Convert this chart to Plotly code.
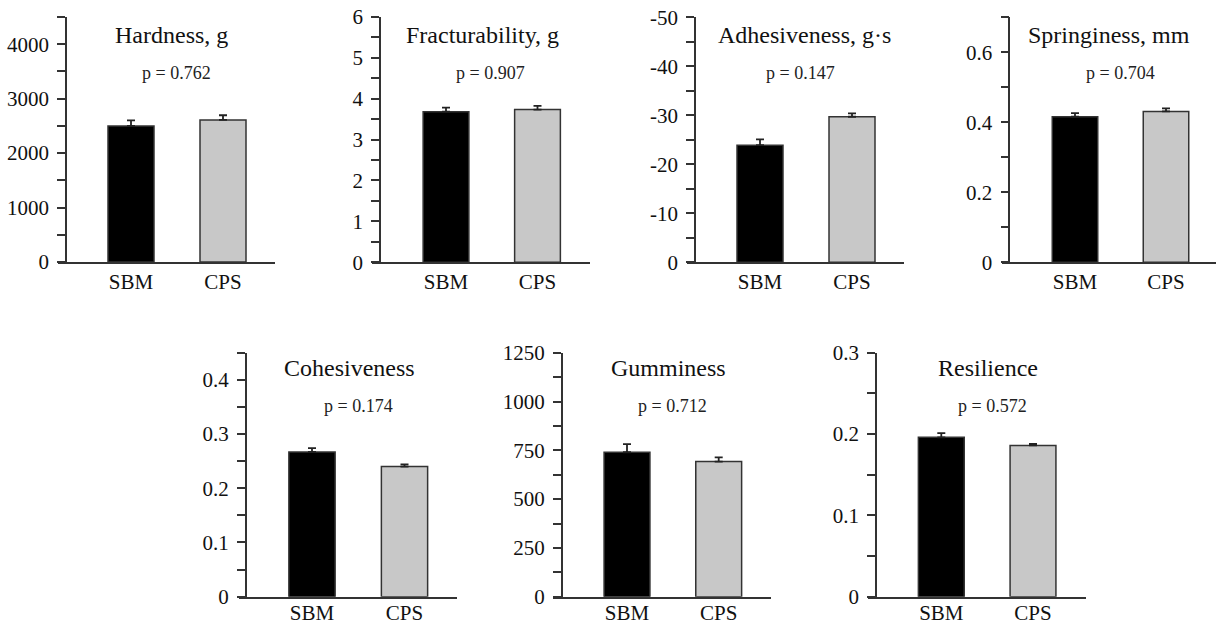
import numpy as np
import plotly.graph_objects as go

W, H = 1216, 626

# ---------------- data ----------------
categories = ["SBM", "CPS"]
titles = ["Hardness, g", "Fracturability, g", "Adhesiveness, g·s", "Springiness, mm",
          "Cohesiveness", "Gumminess", "Resilience"]
p_values = ["0.762", "0.907", "0.147", "0.704", "0.174", "0.712", "0.572"]
sbm_means = [2500, 3.68, -23.9, 0.416, 0.267, 740, 0.196]
cps_means = [2610, 3.73, -29.7, 0.431, 0.240, 692, 0.186]
sbm_errors = [100, 0.10, 1.2, 0.010, 0.007, 42, 0.005]
cps_errors = [85, 0.09, 0.7, 0.009, 0.004, 22, 0.002]
y_max = [4500, 6, -50, 0.7, 0.45, 1250, 0.3]
major_step = [1000, 1, 10, 0.2, 0.1, 250, 0.1]
minor_step = [500, 0.5, 5, 0.1, 0.05, 125, 0.05]

# ---------------- layout geometry (pixels) ----------------
geom = [
    dict(xa=(58, 275), yax=66, c=(131, 223), yt=17, yb=262, tt=(171, 34.5), pp=(176, 73), xs=0),
    dict(xa=(371.7, 590), yax=380, c=(446, 537.5), yt=16.7, yb=262.3, tt=(482, 34.5), pp=(490.5, 73), xs=0),
    dict(xa=(687, 904), yax=695, c=(760, 852), yt=17.3, yb=262.3, tt=(804.7, 34.5), pp=(800, 73), xs=0),
    dict(xa=(1001.7, 1216), yax=1009.3, c=(1075, 1166), yt=17.3, yb=262.3, tt=(1108.8, 34.5), pp=(1120.5, 73), xs=0),
    dict(xa=(239.3, 456.7), yax=245.7, c=(312, 404.5), yt=352.7, yb=596.7, tt=(349.7, 368), pp=(358.7, 406), xs=-4),
    dict(xa=(553.3, 770.7), yax=561.7, c=(627, 718.7), yt=352.7, yb=596.7, tt=(668.8, 368), pp=(672.8, 406), xs=-4),
    dict(xa=(868.3, 1086), yax=876, c=(941.3, 1033), yt=352.7, yb=596.7, tt=(987.5, 368), pp=(992.5, 406), xs=-4),
]

FONT = "Liberation Serif, Times New Roman, serif"
AXC = "#333333"
TXT = "#111111"
bar_colors = ["#000000", "#c8c8c8"]


def fmt(v):
    v = round(v, 6)
    if v == 0:
        return "0"
    return f"{v:g}"


fig = go.Figure()
layout = dict(
    template="none",
    width=W, height=H, margin=dict(l=0, r=0, t=0, b=0, pad=0, autoexpand=False),
    paper_bgcolor="white", plot_bgcolor="white", showlegend=False,
    font=dict(family=FONT, color=TXT),
    annotations=[],
)

for i in range(len(titles)):
    g = geom[i]
    n = "" if i == 0 else str(i + 1)
    xref, yref = "x" + n, "y" + n
    means = [sbm_means[i], cps_means[i]]
    errs = [sbm_errors[i], cps_errors[i]]
    neg = y_max[i] < 0
    zeros = [0, 0]
    fig.add_trace(go.Bar(
        x=categories, y=means, xaxis=xref, yaxis=yref, width=0.5,
        marker=dict(color=bar_colors, line=dict(color=AXC, width=1.5)),
        error_y=dict(type="data", symmetric=False,
                     array=zeros if neg else errs,
                     arrayminus=errs if neg else zeros,
                     color="#222222", thickness=1.8, width=4),
        hoverinfo="skip",
    ))
    unit = g["c"][1] - g["c"][0]
    xr = [(g["xa"][0] - g["c"][0]) / unit, (g["xa"][1] - g["c"][0]) / unit]
    sign = -1 if neg else 1
    top = abs(y_max[i])
    majors = [sign * v for v in np.arange(0, top + 1e-9, major_step[i])]
    minors = [sign * v for v in np.arange(0, top + 1e-9, minor_step[i])]
    minors = [m for m in minors if all(abs(m - M) > 1e-9 for M in majors)]
    layout["xaxis" + n] = dict(
        domain=[g["xa"][0] / W, g["xa"][1] / W], range=xr, anchor=yref,
        showline=True, linecolor=AXC, linewidth=1.5, ticks="", showgrid=False,
        zeroline=False, tickfont=dict(family=FONT, size=21, color=TXT),
        ticklabelstandoff=g["xs"],
        fixedrange=True, type="category", automargin=False,
    )
    layout["yaxis" + n] = dict(
        domain=[1 - g["yb"] / H, 1 - g["yt"] / H], range=[0, y_max[i]],
        anchor="free", position=g["yax"] / W, automargin=False,
        showline=True, linecolor=AXC, linewidth=1.5, showgrid=False, zeroline=False,
        ticks="outside", ticklen=8, tickwidth=1.5, tickcolor=AXC,
        tickmode="array", tickvals=majors, ticktext=[fmt(v) for v in majors],
        minor=dict(tickmode="array", tickvals=minors, ticks="outside", ticklen=8,
                   tickwidth=1.5, tickcolor=AXC, showgrid=False),
        tickfont=dict(family=FONT, size=21, color=TXT),
        ticklabelstandoff=4,
        fixedrange=True,
    )
    layout["annotations"].append(dict(
        text=titles[i], xref="paper", yref="paper",
        x=g["tt"][0] / W, y=1 - g["tt"][1] / H, xanchor="center", yanchor="middle",
        showarrow=False, font=dict(family=FONT, size=24, color=TXT),
    ))
    layout["annotations"].append(dict(
        text="p = " + p_values[i], xref="paper", yref="paper",
        x=g["pp"][0] / W, y=1 - g["pp"][1] / H, xanchor="center", yanchor="middle",
        showarrow=False, font=dict(family=FONT, size=18, color="#222222"),
    ))

fig.update_layout(**layout)
fig.write_html(
    "out.html",
    config={"displayModeBar": False},
    post_script="document.body.style.margin='0';document.body.style.overflow='hidden';",
)
